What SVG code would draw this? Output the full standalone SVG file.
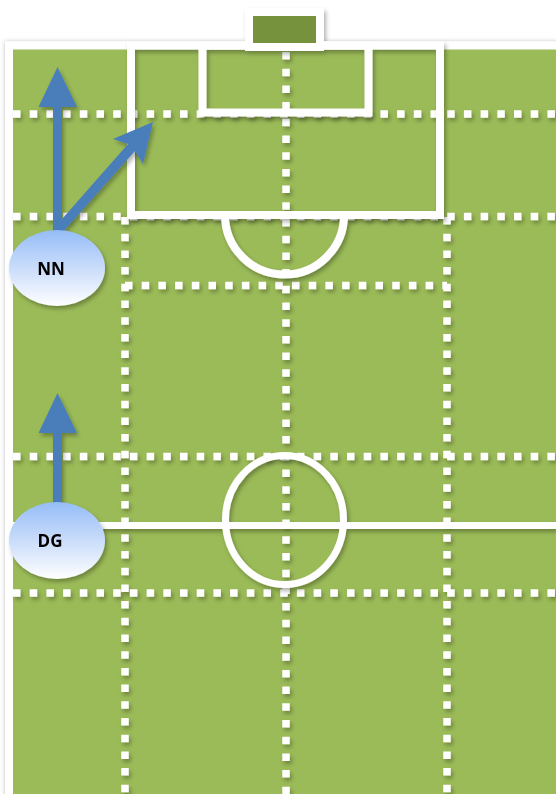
<svg xmlns="http://www.w3.org/2000/svg" width="556" height="794" viewBox="0 0 556 794">
<defs>
<filter id="sh" x="-10%" y="-10%" width="130%" height="130%">
<feDropShadow dx="2" dy="3" stdDeviation="2" flood-color="#000" flood-opacity="0.3"/>
</filter>
<filter id="fsh" x="-5%" y="-5%" width="110%" height="110%">
<feDropShadow dx="0" dy="0" stdDeviation="2" flood-color="#000" flood-opacity="0.25"/>
</filter>
<linearGradient id="ell" x1="0" y1="0" x2="0" y2="1">
<stop offset="0" stop-color="#95BDF8"/>
<stop offset="0.6" stop-color="#D4E3FB"/>
<stop offset="1" stop-color="#FFFFFF"/>
</linearGradient>
<style>
.dot{stroke:#fff;stroke-width:7.5;stroke-dasharray:7.5 9.2;fill:none}
.ln{stroke:#fff;stroke-width:8;fill:none}
.arr{fill:#4A7EBB}
.lbl{font-family:"Open Sans","Liberation Sans",sans-serif;font-weight:bold;font-size:17px;fill:#000;text-anchor:middle}
</style>
</defs>
<g id="field">
<rect x="9" y="45.5" width="560" height="755" fill="#9BBB59" stroke="#fff" stroke-width="8" filter="url(#fsh)"/>
</g>
<g id="grid" filter="url(#sh)">
<line class="dot" x1="13" y1="114" x2="556" y2="114"/>
<line class="dot" x1="13" y1="216.5" x2="556" y2="216.5"/>
<line class="dot" x1="125" y1="285.5" x2="447" y2="285.5"/>
<line class="dot" x1="13" y1="456.5" x2="556" y2="456.5"/>
<line class="dot" x1="13" y1="593" x2="556" y2="593"/>
<line class="dot" x1="125" y1="217" x2="125" y2="794"/>
<line class="dot" x1="447" y1="217" x2="447" y2="794"/>
<line class="dot" x1="286" y1="52" x2="286" y2="794"/>
</g>
<g id="markings" filter="url(#sh)">
<rect class="ln" x="131" y="45.5" width="309" height="169.5"/>
<rect class="ln" x="202.5" y="45.5" width="166" height="67"/>
<path class="ln" d="M225,215 A59.5,59.5 0 0 0 344,215"/>
<line x1="13" y1="525.5" x2="556" y2="525.5" stroke="#fff" stroke-width="7"/>
<ellipse cx="284.5" cy="520" rx="59" ry="64.5" stroke="#fff" stroke-width="7" fill="none"/>
<rect x="249" y="12" width="71" height="35" fill="#76923C" stroke="#fff" stroke-width="8"/>
</g>
<g id="connectors" filter="url(#sh)">
<polygon class="arr" points="53,232 53,107 38.5,107 57.5,67 77,107 62,107 62,232"/>
<polygon class="arr" points="55,227 128,144 113,139 153,122 143,164 135,151 62,233"/>
<polygon class="arr" points="53,510 53,433 38.5,433 57.5,393 77,433 62,433 62,510"/>
</g>
<g id="NN" filter="url(#sh)">
<ellipse cx="57" cy="268" rx="48" ry="38" fill="url(#ell)"/>
<text class="lbl" x="51" y="275">NN</text>
</g>
<g id="DG" filter="url(#sh)">
<ellipse cx="57" cy="540.5" rx="48" ry="38.5" fill="url(#ell)"/>
<text class="lbl" x="50" y="547">DG</text>
</g>
</svg>
